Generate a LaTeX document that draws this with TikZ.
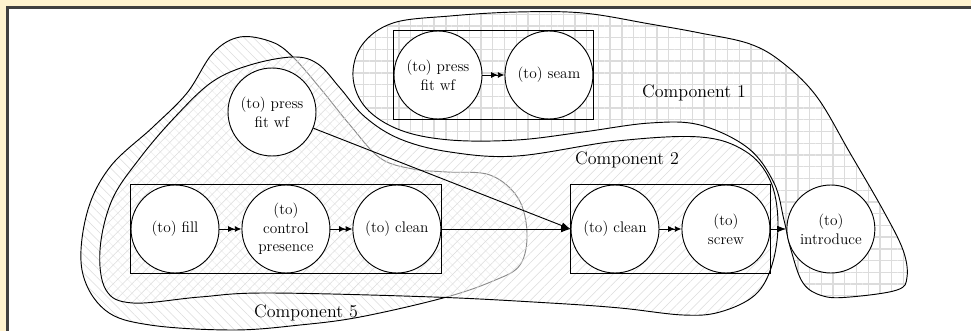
\documentclass[tikz,border=0pt]{standalone}
\usepackage{tikz}
\usetikzlibrary{arrows.meta, positioning, calc, patterns.meta}
\definecolor{framecream}{RGB}{255,243,207}
\definecolor{hatchgray}{RGB}{220,220,220}
\tikzset{
  task/.style={circle, draw, fill=white, minimum size=66pt, inner sep=0pt,
    align=center, font=\fontsize{11.5}{14}\selectfont, line width=0.7pt},
  seq/.style={-{Latex[length=5pt,width=4.5pt]Latex[length=5pt,width=4.5pt]}, line width=0.7pt},
  flow/.style={-{Latex[length=7pt,width=5pt]}, line width=0.7pt},
  complabel/.style={font=\fontsize{13.5}{16}\selectfont},
  blob/.style={line width=0.7pt},
}
% outlines of the components
\def\compfive{plot[smooth cycle, tension=0.6] coordinates {(213,53) (240,37) (272,42) (293,57) (320,88) (350,125) (380,158) (413,169) (447,172) (490,175) (518,198) (527,233) (520,265) (493,281) (443,298) (360,317) (300,325) (233,330) (150,325) (105,310) (82,270) (87,213) (110,167) (153,127) (187,93)}}
\def\comptwo{plot[smooth cycle, tension=0.6] coordinates {(100,250) (112,200) (140,158) (175,117) (212,82) (250,65) (293,57) (318,64) (340,88) (365,117) (400,139) (450,152) (517,156) (617,141) (700,137) (745,151) (770,180) (778,222) (772,265) (755,295) (720,312) (683,315) (620,308) (550,303) (433,297) (267,293) (200,297) (133,303) (106,290)}}
\def\compone{plot[smooth cycle, tension=0.6] coordinates {(353,77) (362,45) (393,23) (450,16) (517,12) (583,13) (650,24) (700,33) (750,44) (783,63) (817,97) (850,153) (883,210) (903,250) (907,277) (897,290) (850,297) (823,296) (803,283) (791,250) (784,220) (774,183) (748,148) (700,125) (650,123) (583,132) (517,140) (450,140) (400,130) (366,108)}}
\begin{document}
\begin{tikzpicture}[x=0.75pt, y=-0.75pt]
  \clip (0,0) rectangle (971,331);
  \fill[framecream] (0,0) rectangle (971,331);
  \draw[line width=2pt, black!75, fill=white] (7.5,7.5) rectangle (1000,360);
  % component 5
  \fill[pattern={Lines[angle=-45, distance=5pt, line width=0.4pt]}, pattern color=hatchgray] \compfive;
  \draw[blob] \compfive;
  % component 2
  \fill[white, fill opacity=0.55] \comptwo;
  \fill[pattern={Lines[angle=45, distance=5pt, line width=0.4pt]}, pattern color=hatchgray] \comptwo;
  \draw[blob] \comptwo;
  % component 1
  \fill[pattern={Hatch[angle=0, distance=8.8pt, line width=1pt]}, pattern color=hatchgray] \compone;
  \draw[blob] \compone;
  \node[complabel] (labone) at (694,93) {Component 1};
  \node[complabel] (labtwo) at (627,160) {Component 2};
  \node[complabel] (labfive) at (306,313) {Component 5};
  % tasks
  \node[task] (fill) at (175,229) {(to) fill};
  \node[task, right=16.5pt of fill] (control) {(to)\\control\\presence};
  \node[task, right=16.5pt of control] (cleanA) {(to) clean};
  \node[task] (pressA) at (272,112) {(to) press\\fit wf};
  \node[task] (pressB) at (438,75) {(to) press\\fit wf};
  \node[task, right=16.5pt of pressB] (seam) {(to) seam};
  \node[task] (cleanB) at (615,229) {(to) clean};
  \node[task, right=16.5pt of cleanB] (screw) {(to)\\screw};
  \node[task, right=12pt of screw] (introduce) {(to)\\introduce};
  % groups
  \draw[line width=0.8pt] (fill.west |- fill.north) rectangle (cleanA.east |- cleanA.south);
  \draw[line width=0.8pt] (pressB.west |- pressB.north) rectangle (seam.east |- seam.south);
  \draw[line width=0.8pt] (cleanB.west |- cleanB.north) rectangle (screw.east |- screw.south);
  % sequences
  \draw[seq] (fill) -- (control);
  \draw[seq] (control) -- (cleanA);
  \draw[seq] (pressB) -- (seam);
  \draw[seq] (cleanB) -- (screw);
  \draw[flow] (cleanA) -- (cleanB);
  \draw[flow] (pressA) -- (cleanB.west);
  \draw[flow] (screw) -- (introduce);
\end{tikzpicture}
\end{document}
